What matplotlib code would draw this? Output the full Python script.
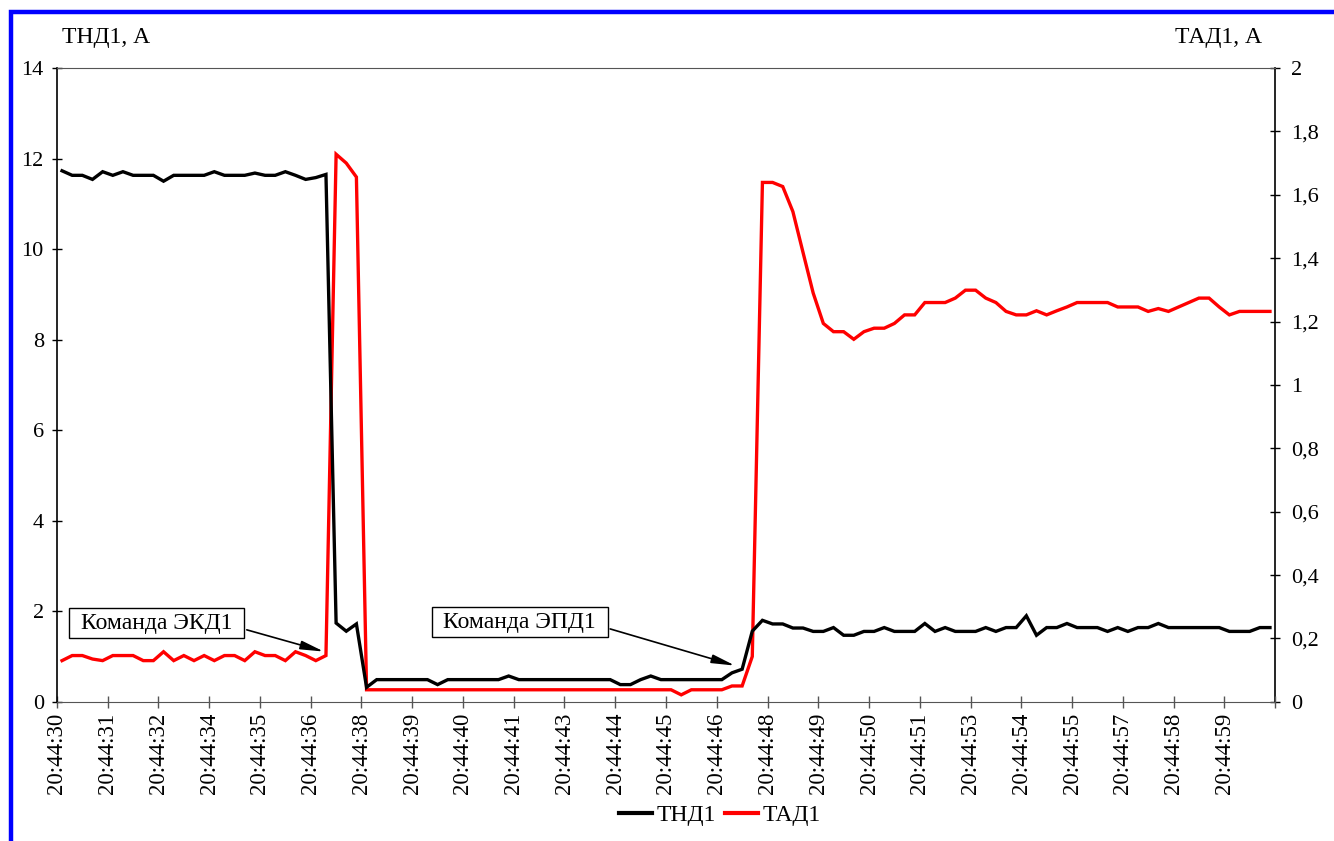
"""
Plot TND1 / TAD1 currents during the EKD1 and EPD1 commands.

Usage:
$ python plot.py

Figure is written to `out.png`.
"""

import matplotlib

matplotlib.use("Agg")

import matplotlib.pyplot as plt
import numpy as np
from matplotlib.lines import Line2D
from matplotlib.patches import Rectangle
from matplotlib.ticker import FuncFormatter

TIME_LABELS = [
    "20:44:30", "20:44:31", "20:44:32", "20:44:34", "20:44:35", "20:44:36",
    "20:44:38", "20:44:39", "20:44:40", "20:44:41", "20:44:43", "20:44:44",
    "20:44:45", "20:44:46", "20:44:48", "20:44:49", "20:44:50", "20:44:51",
    "20:44:53", "20:44:54", "20:44:55", "20:44:57", "20:44:58", "20:44:59",
]

# ТНД1, A (left axis), one sample per category
TND1 = [
    11.73, 11.63, 11.63, 11.54, 11.71, 11.63, 11.71, 11.63, 11.63, 11.63,
    11.50, 11.63, 11.63, 11.63, 11.63, 11.71, 11.63, 11.63, 11.63, 11.68,
    11.63, 11.63, 11.71, 11.63, 11.54, 11.58, 11.65, 1.74, 1.56, 1.72,
    0.32, 0.49, 0.49, 0.49, 0.49, 0.49, 0.49, 0.38, 0.49, 0.49,
    0.49, 0.49, 0.49, 0.49, 0.57, 0.49, 0.49, 0.49, 0.49, 0.49,
    0.49, 0.49, 0.49, 0.49, 0.49, 0.38, 0.38, 0.49, 0.57, 0.49,
    0.49, 0.49, 0.49, 0.49, 0.49, 0.49, 0.64, 0.72, 1.56, 1.80,
    1.72, 1.72, 1.63, 1.63, 1.555, 1.555, 1.64, 1.47, 1.47, 1.555,
    1.555, 1.64, 1.555, 1.555, 1.555, 1.73, 1.555, 1.64, 1.555, 1.555,
    1.555, 1.64, 1.555, 1.64, 1.64, 1.90, 1.47, 1.64, 1.64, 1.73,
    1.64, 1.64, 1.64, 1.555, 1.64, 1.555, 1.64, 1.64, 1.73, 1.64,
    1.64, 1.64, 1.64, 1.64, 1.64, 1.555, 1.555, 1.555, 1.64, 1.64,
]

# ТАД1, A (right axis)
TAD1 = [
    0.130, 0.146, 0.146, 0.135, 0.130, 0.146, 0.146, 0.146, 0.130, 0.130,
    0.158, 0.130, 0.146, 0.130, 0.146, 0.130, 0.146, 0.146, 0.130, 0.158,
    0.146, 0.146, 0.130, 0.158, 0.146, 0.130, 0.146, 1.728, 1.700, 1.656,
    0.038, 0.038, 0.038, 0.038, 0.038, 0.038, 0.038, 0.038, 0.038, 0.038,
    0.038, 0.038, 0.038, 0.038, 0.038, 0.038, 0.038, 0.038, 0.038, 0.038,
    0.038, 0.038, 0.038, 0.038, 0.038, 0.038, 0.038, 0.038, 0.038, 0.038,
    0.038, 0.022, 0.038, 0.038, 0.038, 0.038, 0.050, 0.050, 0.143, 1.639,
    1.639, 1.626, 1.547, 1.418, 1.290, 1.194, 1.168, 1.168, 1.144, 1.168,
    1.179, 1.179, 1.194, 1.221, 1.221, 1.260, 1.260, 1.260, 1.274, 1.299,
    1.299, 1.274, 1.260, 1.232, 1.221, 1.221, 1.234, 1.221, 1.234, 1.246,
    1.260, 1.260, 1.260, 1.260, 1.246, 1.246, 1.246, 1.232, 1.241, 1.232,
    1.246, 1.260, 1.274, 1.274, 1.246, 1.221, 1.232, 1.232, 1.232, 1.232,
]

LABEL_STEP = 5
FONT = ["Liberation Serif", "DejaVu Serif"]


def comma_fmt(val, _pos):
    """Format axis value with a decimal comma ("0,2", "1")."""
    return f"{round(val, 1):g}".replace(".", ",")


def add_command(ax, text, box_center, tail, tip):
    """Boxed caption with an arrow pointing at the line."""
    ax.text(
        *box_center,
        text,
        ha="center",
        va="center",
        fontsize=17,
        bbox=dict(
            boxstyle="square,pad=0.5",
            mutation_aspect=0.4,
            fc="white",
            ec="black",
            lw=1.0,
        ),
        zorder=6,
    )
    ax.annotate(
        "",
        xy=tip,
        xytext=tail,
        arrowprops=dict(
            arrowstyle="-|>,head_length=0.7,head_width=0.13",
            mutation_scale=20,
            color="black",
            lw=1.2,
            shrinkA=0,
            shrinkB=0,
        ),
        zorder=6,
    )


def main():
    plt.rcParams["font.family"] = FONT

    n = len(TND1)
    x = np.arange(n) + 0.5

    fig = plt.figure(figsize=(13.34, 8.41), dpi=100)
    ax = fig.add_axes([0.0427, 0.1655, 0.9131, 0.7536])
    ax2 = ax.twinx()

    ax.plot(x, TND1, color="black", lw=2.4, solid_joinstyle="miter", zorder=3)
    ax2.plot(x, TAD1, color="red", lw=2.4, solid_joinstyle="miter", zorder=3)

    ax.set_xlim(0, n)
    ax.set_ylim(0, 14)
    ax2.set_ylim(0, 2)

    ticks = np.arange(0, n + 1, LABEL_STEP)
    ax.set_xticks(ticks, labels=TIME_LABELS + [""] * (len(ticks) - len(TIME_LABELS)))
    ax.set_yticks(np.arange(0, 15, 2))
    ax2.set_yticks(np.arange(0, 2.01, 0.2))
    ax2.yaxis.set_major_formatter(FuncFormatter(comma_fmt))

    ax.tick_params(axis="x", direction="inout", length=8, width=1, color="#555555",
                   labelsize=16.5, rotation=90, pad=4)
    ax.tick_params(axis="y", direction="inout", length=7, width=1,
                   labelsize=16, pad=6)
    ax2.tick_params(axis="y", direction="inout", length=7, width=1,
                    labelsize=16, pad=8)

    for side in ("top", "right"):
        ax.spines[side].set_visible(side == "top")
    ax.spines["top"].set_color("#555555")
    ax.spines["bottom"].set_color("#555555")
    ax.spines["left"].set_linewidth(1.2)
    for side in ("top", "left", "bottom"):
        ax2.spines[side].set_visible(False)
    ax2.spines["right"].set_linewidth(1.2)

    # Keep the annotations above the red line of the twin axes
    ax.set_zorder(ax2.get_zorder() + 1)
    ax.patch.set_visible(False)

    add_command(ax, "Команда ЭКД1", (9.8, 1.74), (18.7, 1.59), (26.3, 1.11))
    add_command(ax, "Команда ЭПД1", (45.6, 1.76), (54.5, 1.61), (66.8, 0.80))

    fig.text(62 / 1334, 1 - 37 / 841, "ТНД1, А", ha="left", va="center", fontsize=17)
    fig.text(1262 / 1334, 1 - 37 / 841, "ТАД1, А", ha="right", va="center", fontsize=17)

    handles = [
        Line2D([], [], color="black", lw=3),
        Line2D([], [], color="red", lw=3),
    ]
    fig.legend(
        handles,
        ["ТНД1", "ТАД1"],
        loc="center",
        bbox_to_anchor=(720 / 1334, 1 - 815 / 841),
        ncol=2,
        frameon=False,
        fontsize=17,
        handlelength=1.4,
        handletextpad=0.2,
        columnspacing=0.35,
        borderpad=0,
    )

    # Blue frame along the top and left edges
    fig.add_artist(Rectangle((11 / 1334, -0.2), 1.5, 1.2 - 12 / 841,
                             transform=fig.transFigure, fill=False,
                             ec="#0000ff", lw=3.2))

    fig.savefig("out.png", dpi=100)


if __name__ == "__main__":
    main()
